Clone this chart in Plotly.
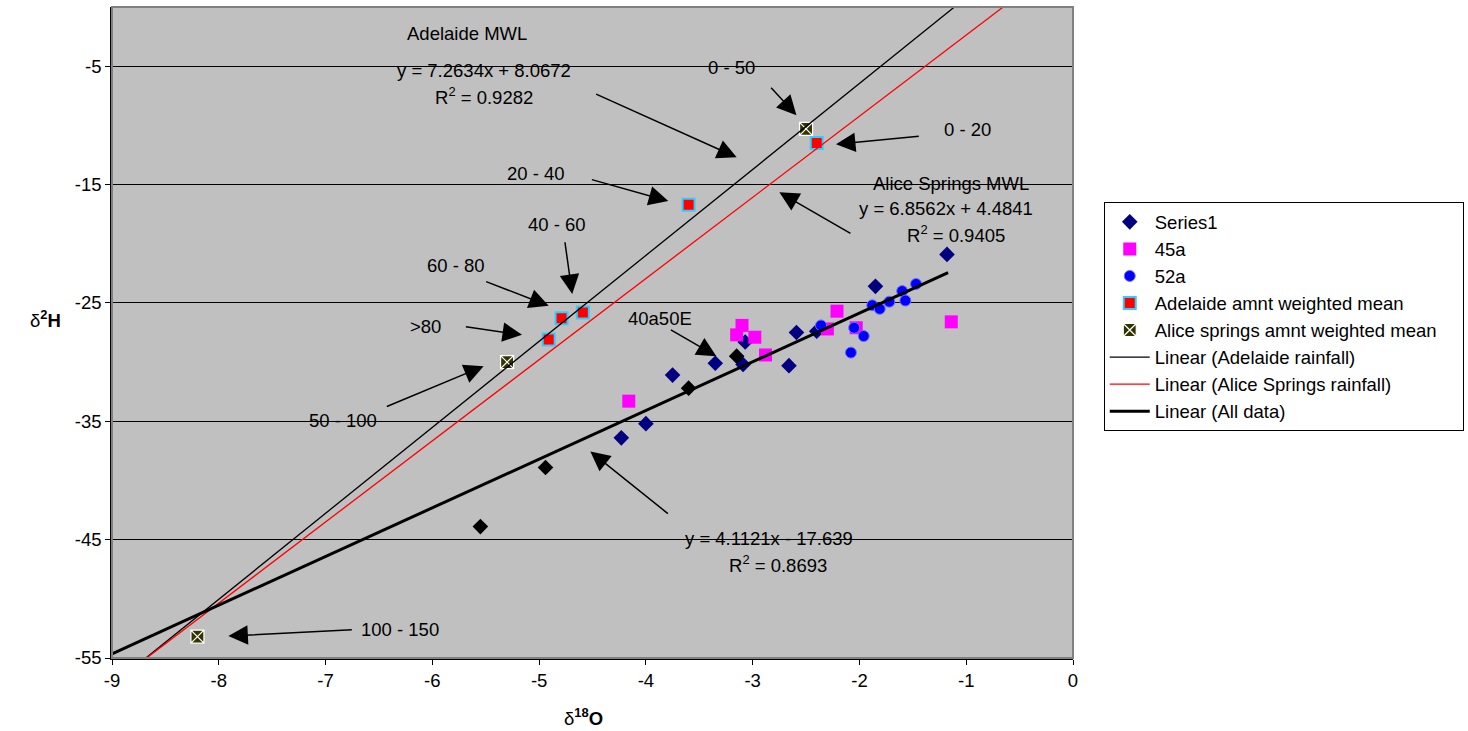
import numpy as np
import plotly.graph_objects as go

# ---------------- data ----------------
series1_x = [-1.18, -1.85, -2.59, -2.40, -3.07, -3.09, -3.35, -2.66, -3.75, -4.00, -4.23]
series1_y = [-20.9, -23.6, -27.5, -27.4, -28.3, -30.2, -30.1, -30.3, -31.1, -35.2, -36.4]

black_x = [-3.15, -3.60, -4.94, -5.55]
black_y = [-29.5, -32.2, -38.9, -43.9]

s45a_x = [-4.16, -3.10, -3.15, -2.98, -2.88, -2.21, -2.30, -2.03, -1.14]
s45a_y = [-33.3, -26.9, -27.7, -27.9, -29.4, -25.7, -27.2, -27.1, -26.6]

s52a_x = [-2.36, -2.05, -1.96, -2.08, -1.88, -1.81, -1.72, -1.60, -1.57, -1.47]
s52a_y = [-26.9, -27.1, -27.8, -29.2, -25.2, -25.5, -24.9, -24.0, -24.8, -23.4]

adel_x = [-2.40, -3.60, -4.59, -4.79, -4.91]
adel_y = [-11.5, -16.7, -25.8, -26.3, -28.1]

alice_x = [-2.50, -5.30, -8.20]
alice_y = [-10.3, -30.0, -53.2]

# trendlines (slope, intercept, x-extent)
adel_fit = (7.2634, 8.0672, [-9.0, 0.0])
alice_fit = (6.8562, 4.4841, [-9.0, 0.0])
all_fit = (4.1121, -17.639, [-9.0, -1.17])

x_ticks = [-9, -8, -7, -6, -5, -4, -3, -2, -1, 0]
y_ticks = [-55, -45, -35, -25, -15, -5]

# labels: (text, x, y)
labels = [
    ("Adelaide MWL", -5.68, -2.2),
    ("y = 7.2634x + 8.0672", -5.52, -5.35),
    ("R<sup>2</sup> = 0.9282", -5.52, -7.55),
    ("0 - 50", -3.20, -5.1),
    ("0 - 20", -0.99, -10.35),
    ("20 - 40", -5.03, -14.1),
    ("Alice Springs MWL", -1.14, -14.9),
    ("y = 6.8562x + 4.4841", -1.19, -17.05),
    ("R<sup>2</sup> = 0.9405", -1.10, -19.2),
    ("40 - 60", -4.83, -18.35),
    ("60 - 80", -5.78, -21.85),
    (">80", -6.06, -27.0),
    ("50 - 100", -6.84, -34.9),
    ("40a50E", -3.87, -26.35),
    ("y = 4.1121x - 17.639", -2.85, -44.9),
    ("R<sup>2</sup> = 0.8693", -2.76, -47.1),
    ("100 - 150", -6.30, -52.6),
]

# arrows: (tail_x, tail_y, head_x, head_y)
arrows = [
    (-4.48, -7.3, -3.15, -12.7),
    (-2.84, -6.7, -2.59, -9.15),
    (-1.43, -10.9, -2.22, -11.6),
    (-4.52, -14.55, -3.79, -16.4),
    (-2.07, -19.2, -2.75, -15.65),
    (-4.76, -19.75, -4.69, -24.25),
    (-5.51, -23.15, -4.91, -25.25),
    (-5.70, -27.0, -5.16, -27.7),
    (-6.44, -33.8, -5.52, -30.35),
    (-3.78, -27.2, -3.34, -29.5),
    (-3.78, -42.9, -4.52, -37.55),
    (-6.74, -52.6, -7.91, -53.15),
]

# ---------------- figure ----------------
fig = go.Figure()

fig.add_trace(go.Scatter(x=series1_x, y=series1_y, mode="markers", name="Series1",
                         marker=dict(symbol="diamond", size=12, color="#000080")))
fig.add_trace(go.Scatter(x=s45a_x, y=s45a_y, mode="markers", name="45a",
                         marker=dict(symbol="square", size=13, color="#FF00FF")))
fig.add_trace(go.Scatter(x=s52a_x, y=s52a_y, mode="markers", name="52a",
                         marker=dict(symbol="circle", size=11, color="#0000FF",
                                     line=dict(color="#7070FF", width=1))))
fig.add_trace(go.Scatter(x=adel_x, y=adel_y, mode="markers", name="Adelaide amnt weighted mean",
                         marker=dict(symbol="square", size=12, color="#FF0000",
                                     line=dict(color="#33CCFF", width=2))))
fig.add_trace(go.Scatter(x=alice_x, y=alice_y, mode="markers",
                         name="Alice springs amnt weighted mean\u00a0\u00a0\u00a0\u00a0",
                         marker=dict(symbol="square-x", size=13, color="#333300",
                                     line=dict(color="#FFFFFF", width=1.2))))
fig.add_trace(go.Scatter(x=black_x, y=black_y, mode="markers", showlegend=False,
                         marker=dict(symbol="diamond", size=12, color="#000000")))

for name, (m, c, xr), color, w in [
    ("Linear (Adelaide rainfall)", adel_fit, "#000000", 1.3),
    ("Linear (Alice Springs rainfall)", alice_fit, "#FF0000", 1.3),
    ("Linear (All data)", all_fit, "#000000", 3),
]:
    xs = np.array(xr)
    fig.add_trace(go.Scatter(x=xs, y=m * xs + c, mode="lines", name=name,
                             line=dict(color=color, width=w)))

font_family = "Liberation Sans, Arial, sans-serif"
FS = 18.5

for t, x, y in labels:
    fig.add_annotation(x=x, y=y, text=t, showarrow=False, xref="x", yref="y",
                       font=dict(size=FS, color="#000000", family=font_family))

for tx, ty, hx, hy in arrows:
    fig.add_annotation(x=hx, y=hy, ax=tx, ay=ty, xref="x", yref="y", axref="x", ayref="y",
                       text="", showarrow=True, arrowhead=2, arrowsize=2.6, arrowwidth=1.5,
                       arrowcolor="#000000", standoff=0, startstandoff=0)

# axis titles
fig.add_annotation(x=-0.069, y=0.52, xref="paper", yref="paper", showarrow=False,
                   xanchor="center", yanchor="middle",
                   text="δ<b><sup>2</sup>H</b>", font=dict(size=FS, color="#000000", family=font_family))
fig.add_annotation(x=(583 - 112) / 961, y=-0.09, xref="paper", yref="paper", showarrow=False,
                   xanchor="center", yanchor="middle",
                   text="δ<b><sup>18</sup>O</b>", font=dict(size=FS, color="#000000", family=font_family))

# plot area border
fig.add_shape(type="rect", xref="paper", yref="paper", x0=0, y0=0, x1=1, y1=1,
              line=dict(color="#808080", width=2), layer="above")

fig.update_layout(
    width=1468, height=731,
    margin=dict(l=112, r=395, t=7, b=73, autoexpand=False),
    paper_bgcolor="#FFFFFF", plot_bgcolor="#C0C0C0",
    font=dict(family=font_family, size=FS, color="#000000"),
    showlegend=True,
    legend=dict(x=1.032, y=0.7, xanchor="left", yanchor="top",
                bgcolor="#FFFFFF", bordercolor="#000000", borderwidth=1,
                font=dict(size=FS, family=font_family), tracegroupgap=0,
                itemwidth=40),
    xaxis=dict(range=[-9, 0], tickvals=x_ticks, ticktext=[str(v) for v in x_ticks],
               showgrid=False, zeroline=False, showline=True, linecolor="#000000", linewidth=1.5,
               ticks="outside", ticklen=5, tickcolor="#000000",
               tickfont=dict(size=FS)),
    yaxis=dict(range=[-55, 0], tickvals=y_ticks, ticktext=[str(v) for v in y_ticks],
               showgrid=True, gridcolor="#000000", gridwidth=1, zeroline=False,
               showline=True, linecolor="#000000", linewidth=1.5,
               ticks="outside", ticklen=5, tickcolor="#000000",
               tickfont=dict(size=FS)),
)

fig.write_html("out.html")
